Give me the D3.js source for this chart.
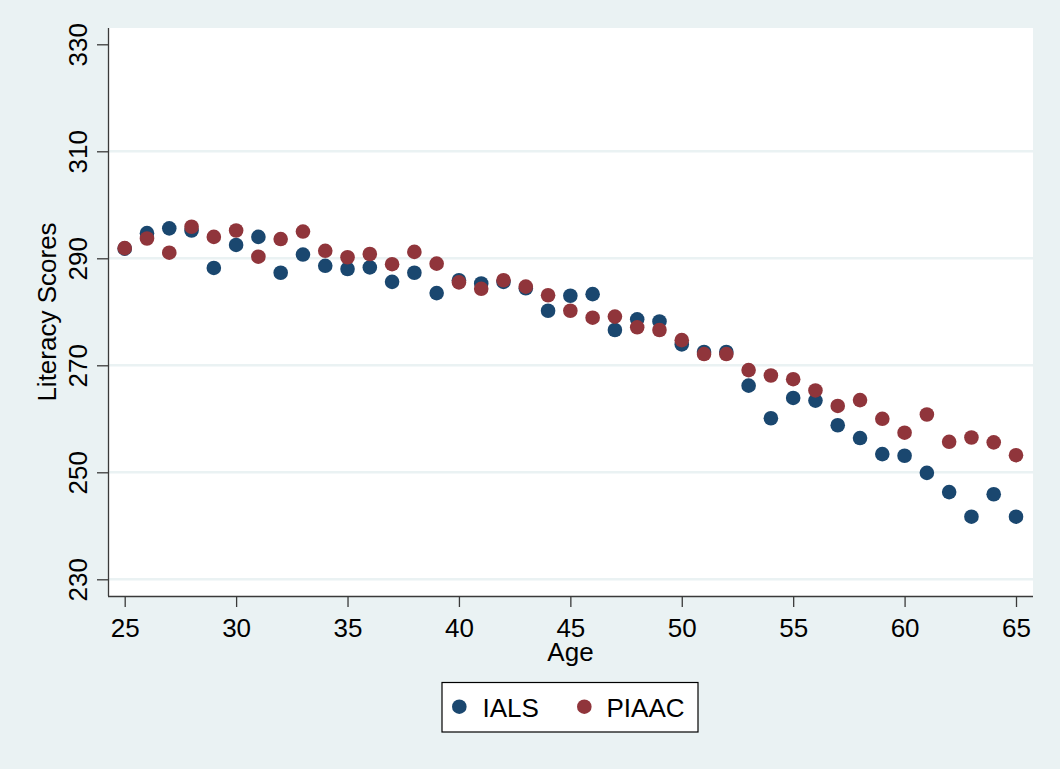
<!DOCTYPE html>
<html>
<head>
<meta charset="utf-8">
<script src="https://cdn.jsdelivr.net/npm/d3@7"></script>
<style>
  html, body { margin: 0; padding: 0; background: #EAF2F3; }
  svg { display: block; font-family: "Liberation Sans", Arial, Helvetica, sans-serif; }
</style>
</head>
<body>
<svg id="chart" width="1060" height="769"></svg>
<script>
// Literacy scores by age, two survey waves
const ages = [25,26,27,28,29,30,31,32,33,34,35,36,37,38,39,40,41,42,43,44,45,
              46,47,48,49,50,51,52,53,54,55,56,57,58,59,60,61,62,63,64,65];
const ialsScores = [291.8,294.7,295.6,295.2,288.2,292.5,294.0,287.3,290.7,288.6,288.0,
                    288.3,285.6,287.3,283.5,285.9,285.3,285.6,284.4,280.2,283.0,
                    283.3,276.6,278.6,278.2,273.9,272.5,272.5,266.2,260.1,263.9,
                    263.4,258.8,256.4,253.4,253.1,249.9,246.3,241.7,245.9,241.7];
const piaacScores = [291.9,293.7,291.05,295.9,294.0,295.2,290.3,293.6,295.0,291.4,290.2,
                     290.8,288.9,291.2,289.0,285.5,284.3,285.9,284.7,283.1,280.2,
                     278.9,279.1,277.1,276.6,274.7,272.1,272.1,269.1,268.1,267.4,
                     265.3,262.4,263.5,260.0,257.4,260.8,255.7,256.5,255.6,253.2];
const xTicks = [25,30,35,40,45,50,55,60,65];
const yTicks = [230,250,270,290,310,330];
const gridValues = [230,250,270,290,310];
const seriesNames = ["IALS", "PIAAC"];
const seriesColors = ["#1A476F", "#90353B"];

const svg = d3.select("#chart");
const bg = "#EAF2F3";
const axisColor = "#3a3a3a";
const fontSize = 26;

const plot = { left: 108, right: 1033, top: 28, bottom: 596 };

const x = d3.scaleLinear().domain([25, 65]).range([124.7, 1016]);
const y = d3.scaleLinear().domain([230, 330]).range([579.3, 44.3]);

svg.append("rect").attr("width", 1060).attr("height", 769).attr("fill", bg);

// plot region
svg.append("rect")
  .attr("x", plot.left).attr("y", plot.top)
  .attr("width", plot.right - plot.left).attr("height", plot.bottom - plot.top)
  .attr("fill", "#ffffff");

// horizontal gridlines
svg.append("g").selectAll("line").data(gridValues).join("line")
  .attr("x1", plot.left).attr("x2", plot.right)
  .attr("y1", d => y(d)).attr("y2", d => y(d))
  .attr("stroke", bg).attr("stroke-width", 2.5);

// y axis
const yAxis = svg.append("g")
  .attr("transform", `translate(${plot.left},0)`)
  .call(d3.axisLeft(y).tickValues(yTicks).tickSize(11).tickPadding(10).tickFormat(d3.format("d")));
yAxis.select(".domain").attr("d", `M0.5,${plot.top}V${plot.bottom}`).attr("stroke", axisColor).attr("stroke-width", 1.3);
yAxis.selectAll(".tick line").attr("stroke", axisColor).attr("stroke-width", 1.3);
yAxis.selectAll(".tick text")
  .attr("x", null).attr("dy", null)
  .attr("transform", "translate(-21,0) rotate(-90)")
  .attr("text-anchor", "middle")
  .attr("font-size", fontSize).attr("fill", "#000")
  .attr("font-family", "Liberation Sans, Arial, sans-serif");

// x axis
const xAxis = svg.append("g")
  .attr("transform", `translate(0,${plot.bottom})`)
  .call(d3.axisBottom(x).tickValues(xTicks).tickSize(11).tickPadding(4).tickFormat(d3.format("d")));
xAxis.select(".domain").attr("d", `M${plot.left},0.5H${plot.right}`).attr("stroke", axisColor).attr("stroke-width", 1.3);
xAxis.selectAll(".tick line").attr("stroke", axisColor).attr("stroke-width", 1.3);
xAxis.selectAll(".tick text")
  .attr("y", 40.5).attr("dy", null)
  .attr("font-size", fontSize).attr("fill", "#000")
  .attr("font-family", "Liberation Sans, Arial, sans-serif");

// axis titles
svg.append("text")
  .attr("x", (plot.left + plot.right) / 2).attr("y", 661)
  .attr("text-anchor", "middle").attr("font-size", fontSize).attr("fill", "#000")
  .text("Age");
svg.append("text")
  .attr("transform", `translate(56,${(plot.top + plot.bottom) / 2}) rotate(-90)`)
  .attr("text-anchor", "middle").attr("font-size", fontSize).attr("fill", "#000")
  .text("Literacy Scores");

// scatter markers
const series = [ialsScores, piaacScores];
series.forEach((vals, i) => {
  svg.append("g").selectAll("circle").data(ages).join("circle")
    .attr("cx", d => x(d))
    .attr("cy", (d, j) => y(vals[j]))
    .attr("r", 7.3)
    .attr("fill", seriesColors[i]);
});

// legend
const legend = svg.append("g");
legend.append("rect")
  .attr("x", 442).attr("y", 682.5).attr("width", 256).attr("height", 49.5)
  .attr("fill", "#ffffff").attr("stroke", "#000").attr("stroke-width", 1.2);
const legendMarkX = [459.3, 584.3];
const legendTextX = [482.5, 606.5];
seriesNames.forEach((name, i) => {
  legend.append("circle").attr("cx", legendMarkX[i]).attr("cy", 706.7).attr("r", 7.3).attr("fill", seriesColors[i]);
  legend.append("text").attr("x", legendTextX[i]).attr("y", 716.5)
    .attr("font-size", fontSize).attr("fill", "#000").text(name);
});
</script>
</body>
</html>
